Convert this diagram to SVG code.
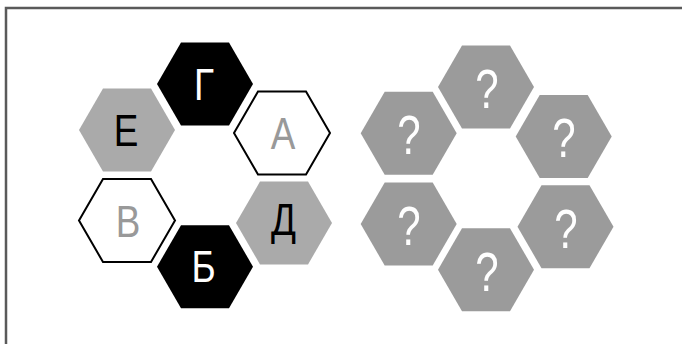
<svg xmlns="http://www.w3.org/2000/svg" width="682" height="344" viewBox="0 0 682 344">
<defs>
<style>
.frame{fill:none;stroke:#5a5a5a;stroke-width:2.5}
.blk{fill:#000}
.lg{fill:#aaaaaa}
.out{fill:#fff;stroke:#000;stroke-width:2}
.dg{fill:#9b9b9b}
.t{font-family:"Liberation Sans",Arial,sans-serif;font-size:45px;text-anchor:middle}
.q{font-family:"Liberation Sans",Arial,sans-serif;font-size:56px;text-anchor:middle;fill:#fff}
</style>
<polygon id="hex" points="-48,0 -24,-41.5 24,-41.5 48,0 24,41.5 -24,41.5"/>
</defs>
<path class="frame" d="M6,344 V8 H682"/>
<g id="node-G"><use href="#hex" class="blk" transform="translate(205,84)"/><text class="t" fill="#fff" transform="translate(204,99.5) scale(0.82,1)">Г</text></g>
<g id="node-E"><use href="#hex" class="lg" transform="translate(127,130)"/><text class="t" fill="#000" transform="translate(126,146) scale(0.82,1)">Е</text></g>
<g id="node-A"><use href="#hex" class="out" transform="translate(282,133)"/><text class="t" fill="#999" transform="translate(283,149) scale(0.82,1)">А</text></g>
<g id="node-V"><use href="#hex" class="out" transform="translate(127,220.5)"/><text class="t" fill="#999" transform="translate(128,237) scale(0.82,1)">В</text></g>
<g id="node-D"><use href="#hex" class="lg" transform="translate(284,223)"/><text class="t" fill="#000" transform="translate(283.5,235) scale(0.82,1)">Д</text></g>
<g id="node-B"><use href="#hex" class="blk" transform="translate(205,266.7)"/><text class="t" fill="#fff" transform="translate(203.5,282) scale(0.82,1)">Б</text></g>
<g id="q-top"><use href="#hex" class="dg" transform="translate(486,87)"/><text class="q" transform="translate(487,108) scale(0.75,1)">?</text></g>
<g id="q-ul"><use href="#hex" class="dg" transform="translate(408.7,133.3)"/><text class="q" transform="translate(409,154) scale(0.75,1)">?</text></g>
<g id="q-ur"><use href="#hex" class="dg" transform="translate(563.7,136.4)"/><text class="q" transform="translate(564,157) scale(0.75,1)">?</text></g>
<g id="q-ll"><use href="#hex" class="dg" transform="translate(408.7,224)"/><text class="q" transform="translate(409,245) scale(0.75,1)">?</text></g>
<g id="q-lr"><use href="#hex" class="dg" transform="translate(565.5,226.7)"/><text class="q" transform="translate(566,247.5) scale(0.75,1)">?</text></g>
<g id="q-bot"><use href="#hex" class="dg" transform="translate(486,269.7)"/><text class="q" transform="translate(487,290.5) scale(0.75,1)">?</text></g>
<g id="connectors"/>
</svg>
